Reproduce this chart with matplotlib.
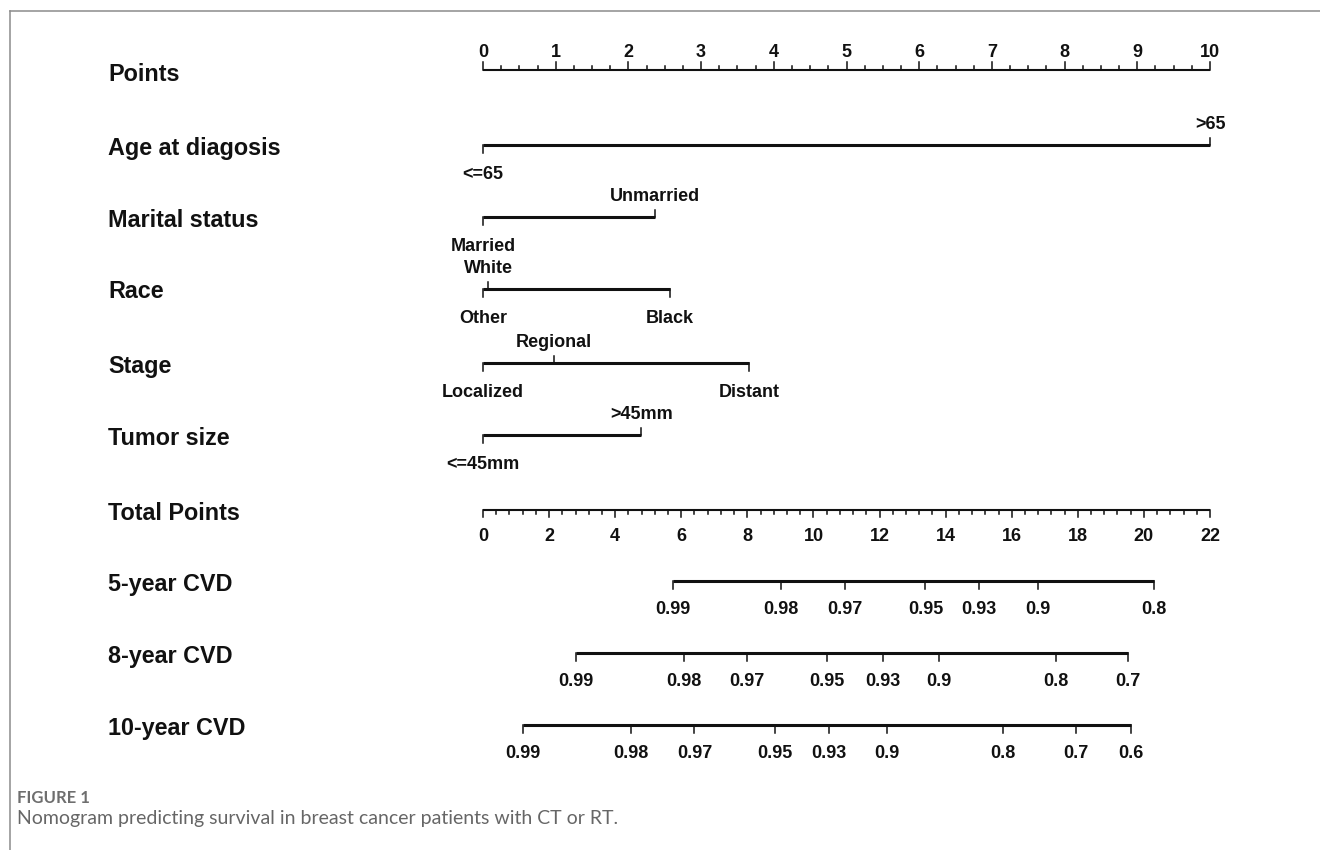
import numpy as np
import matplotlib.pyplot as plt
from matplotlib.transforms import blended_transform_factory

# nomogram data (points for each level)
row_names = ["Points", "Age at diagosis", "Marital status", "Race", "Stage",
             "Tumor size", "Total Points", "5-year CVD", "8-year CVD", "10-year CVD"]

age_levels = ["<=65", ">65"]
age_points = [0, 10]
marital_levels = ["Married", "Unmarried"]
marital_points = [0, 2.37]
race_levels = ["Other", "White", "Black"]
race_points = [0, 0.07, 2.57]
stage_levels = ["Localized", "Regional", "Distant"]
stage_points = [0, 0.98, 3.66]
tumor_levels = ["<=45mm", ">45mm"]
tumor_points = [0, 2.18]

points_max = 10
total_max = 22

# survival probability -> total points position
cvd5_probs = ["0.99", "0.98", "0.97", "0.95", "0.93", "0.9", "0.8"]
cvd5_total = [5.76, 9.02, 10.95, 13.39, 15.02, 16.78, 20.30]
cvd8_probs = ["0.99", "0.98", "0.97", "0.95", "0.93", "0.9", "0.8", "0.7"]
cvd8_total = [2.80, 6.08, 7.98, 10.41, 12.09, 13.79, 17.33, 19.52]
cvd10_probs = ["0.99", "0.98", "0.97", "0.95", "0.93", "0.9", "0.8", "0.7", "0.6"]
cvd10_total = [1.20, 4.47, 6.40, 8.83, 10.47, 12.22, 15.74, 17.95, 19.62]

caption_head = "FIGURE 1"
caption_text = "Nomogram predicting survival in breast cancer patients with CT or RT."

# ---- layout (pixels, figure is 1320 x 850) ----
W, H = 1320, 850
x0_px, x10_px = 483, 1210          # where 0 and 10 points sit
px_per_pt = (x10_px - x0_px) / points_max
row_y = [70, 145, 217, 289, 363, 435, 510, 581, 653, 725]
label_x_px = 108

ink = "#111111"
fs_row = 16.8
fs_small = 13
lw_axis = 1.5
lw_bar = 2.2
lw_tick = 1.1

plt.rcParams['font.family'] = ['Liberation Sans', 'DejaVu Sans']

fig = plt.figure(figsize=(W / 100, H / 100), dpi=100)
ax = fig.add_axes([0, 0, 1, 1])
ax.set_xlim(-x0_px / px_per_pt, (W - x0_px) / px_per_pt)
ax.set_ylim(H, 0)
ax.axis("off")

lab_tr = blended_transform_factory(fig.transFigure, ax.transData)

def tot2pts(t):
    return np.asarray(t, dtype=float) * points_max / total_max

def small_text(x, y, s):
    ax.text(x, y, s, ha="center", va="baseline", fontsize=fs_small,
            fontweight="bold", color=ink)

# row labels
for name, y in zip(row_names, row_y):
    off = 11 if name == "Points" else 9.5
    ax.text(label_x_px / W, y + off, name, transform=lab_tr, ha="left",
            va="baseline", fontsize=fs_row, fontweight="bold", color=ink)

# Points scale
y = row_y[0]
ax.plot([0, points_max], [y, y], color=ink, lw=lw_axis, solid_capstyle="butt")
for v in np.arange(0, points_max + 0.001, 0.25):
    major = abs(v - round(v)) < 1e-6
    ax.plot([v, v], [y, y - (8 if major else 4.5)], color=ink, lw=lw_tick)
    if major:
        small_text(v, y - 13.5, f"{int(round(v))}")

# predictor rows
predictors = [(age_levels, age_points), (marital_levels, marital_points),
              (race_levels, race_points), (stage_levels, stage_points),
              (tumor_levels, tumor_points)]
for (levels, pts), y in zip(predictors, row_y[1:6]):
    ax.plot([min(pts), max(pts)], [y, y], color=ink, lw=lw_bar,
            solid_capstyle="butt")
    for i, (lev, p) in enumerate(zip(levels, pts)):
        if i % 2 == 1:   # label above, tick up
            ax.plot([p, p], [y, y - 7], color=ink, lw=lw_tick)
            small_text(p, y - 16, lev)
        else:            # label below, tick down
            ax.plot([p, p], [y, y + 8], color=ink, lw=lw_tick)
            small_text(p, y + 34, lev)

# Total points scale
y = row_y[6]
ax.plot([0, points_max], [y, y], color=ink, lw=lw_axis, solid_capstyle="butt")
for v in np.arange(0, total_max + 0.001, 0.4):
    major = abs(v / 2 - round(v / 2)) < 1e-6
    xv = tot2pts(v)
    ax.plot([xv, xv], [y, y + (6.5 if major else 3.5)], color=ink, lw=lw_tick)
    if major:
        small_text(xv, y + 31, f"{int(round(v))}")

# survival rows
for (probs, tots), y in zip([(cvd5_probs, cvd5_total), (cvd8_probs, cvd8_total),
                             (cvd10_probs, cvd10_total)], row_y[7:]):
    xs = tot2pts(tots)
    ax.plot([xs.min(), xs.max()], [y, y], color=ink, lw=lw_bar,
            solid_capstyle="butt")
    for xv, lab in zip(xs, probs):
        ax.plot([xv, xv], [y, y + 8], color=ink, lw=lw_tick)
        small_text(xv, y + 33, lab)

# frame and caption
frame_col = "#8c8c8c"
fx = 9.5 / W
fy = 1 - 10.5 / H
ax.plot([fx, 1], [fy, fy], transform=ax.transAxes, color=frame_col, lw=1.1,
        clip_on=False)
ax.plot([fx, fx], [fy, 0], transform=ax.transAxes, color=frame_col, lw=1.1,
        clip_on=False)

cap_font = ['Lato', 'DejaVu Sans']
fig.text(17 / W, 1 - 803 / H, caption_head, family=cap_font, fontweight="bold",
         fontsize=12, color="#6e6e6e", va="baseline")
fig.text(17 / W, 1 - 824 / H, caption_text, family=cap_font, fontsize=14,
         color="#666666", va="baseline")

fig.savefig("out.png", dpi=100)
